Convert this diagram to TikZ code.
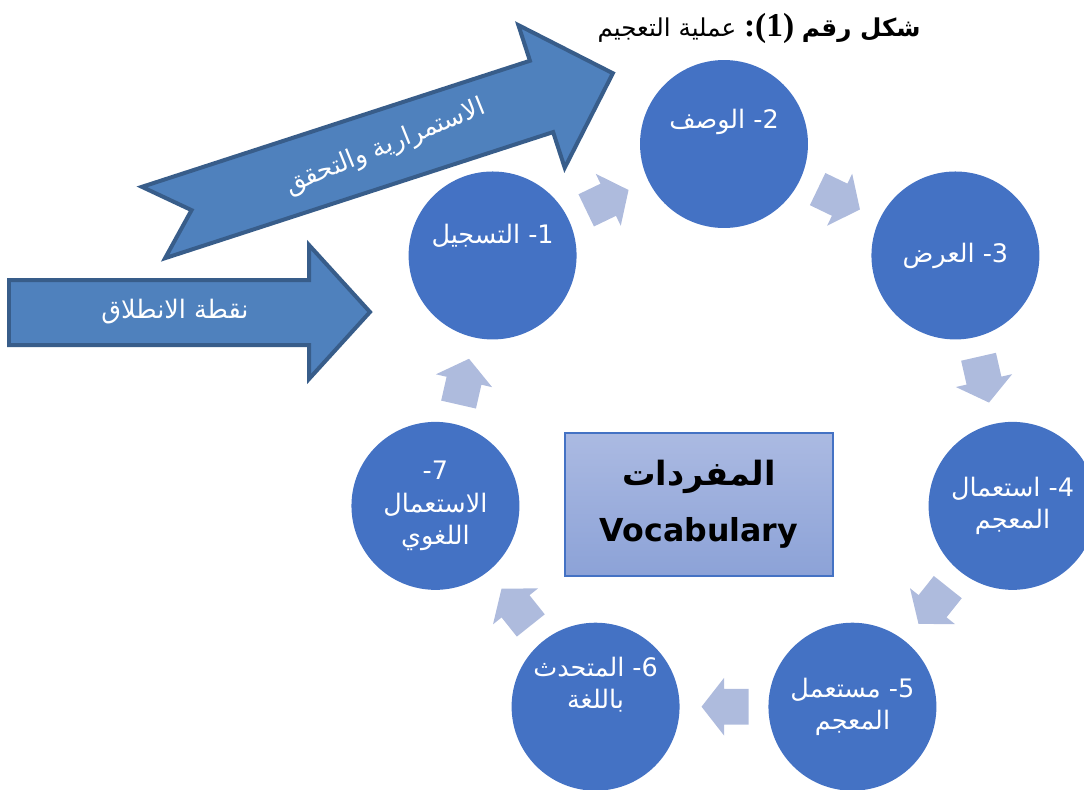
\documentclass[tikz,border=0pt]{standalone}
\usepackage{fontspec}
\usepackage{xcolor}
\usepackage{tikz}
\usetikzlibrary{calc,shapes.arrows}
\setmainfont{DejaVu Sans}
\newfontfamily\arabicfont[Script=Arabic]{DejaVu Sans}
\newfontfamily\titlenum{Liberation Serif}
\TeXXeTstate=1
\definecolor{stagefill}{RGB}{68, 114, 196}
\definecolor{steparrow}{RGB}{174, 187, 221}
\definecolor{bigfill}{RGB}{79, 129, 189}
\definecolor{bigdraw}{RGB}{56, 93, 138}
\definecolor{boxtop}{RGB}{171, 186, 226}
\definecolor{boxbottom}{RGB}{140, 162, 215}

\tikzset{
  stage/.style={circle, fill=stagefill, minimum size=3.36cm, inner sep=0pt},
  stagetext/.style={text=white, align=center, font=\fontsize{14.5}{18.5}\selectfont},
  cyclearrow/.style={single arrow, fill=steparrow, inner xsep=0pt, inner ysep=0.35cm,
    minimum height=0.94cm, single arrow head extend=0.22cm, single arrow tip angle=104},
  bigarrow/.style={fill=bigfill, draw=bigdraw, line width=0.08cm, line join=miter},
  bigtext/.style={text=white, font=\arabicfont\fontsize{14.5}{17}\selectfont}
}

\begin{document}
\begin{tikzpicture}[x=0.02cm, y=0.02cm]
  \useasboundingbox (0,0) rectangle (1084,-789);
  \clip (0,0) rectangle (1084,-789);
  \coordinate (ring) at (724,-440);

  % starting point and continuity arrows
  \draw[bigarrow] (9,-280) -- (309,-280) -- (309,-245) -- (370,-312)
    -- (309,-379) -- (309,-345) -- (9,-345) -- cycle;
  \node[bigtext] (start) at (175,-312) {\beginR نقطة الانطلاق\endR};
  \begin{scope}[shift={(153.5,-222.5)}, rotate=18]
    \draw[bigarrow] (0,37.5) -- (408,37.5) -- (408,75) -- (483,0)
      -- (408,-75) -- (408,-37.5) -- (0,-37.5) -- (40,0) -- cycle;
    \node[bigtext, transform shape, rotate=4] (keep) at (244,0) {\beginR الاستمرارية والتحقق\endR};
  \end{scope}

  % the seven stages
  \foreach \i/\txt/\dy in {
      1/{{\arabicfont التسجيل} -1}/20,
      2/{{\arabicfont الوصف} -2}/22,
      3/{{\arabicfont العرض} -3}/0,
      4/{{\arabicfont استعمال} -4\\{\arabicfont المعجم}}/0,
      5/{{\arabicfont مستعمل} -5\\{\arabicfont المعجم}}/0,
      6/{{\arabicfont المتحدث} -6\\{\arabicfont باللغة}}/22,
      7/{-7\\{\arabicfont الاستعمال}\\{\arabicfont اللغوي}}/0} {
    \node[stage] (c\i) at ($(ring)+({90-(\i-2)*360/7}:296)$) {};
    \node[stagetext] (t\i) at ($(c\i)+(0,\dy)$) {\txt};
  }

  % arrows between stages
  \foreach \i/\j in {1/2, 2/3, 3/4, 4/5, 5/6, 6/7, 7/1}
    \node[cyclearrow, rotate={-(\i-1.5)*360/7}] (a\i)
      at ($(c\i)!0.5!(c\j)!0.16cm!(c\i)$) {};

  \node[draw=stagefill, line width=0.8pt, top color=boxtop, bottom color=boxbottom,
    minimum width=5.36cm, minimum height=2.86cm, align=center,
    font=\bfseries\fontsize{18}{32}\selectfont] (vocab) at (699,-504.5)
    {{\arabicfont\fontsize{19}{32}\selectfont المفردات}\\Vocabulary};

  \node[font=\fontsize{14}{18}\selectfont] (title) at (759,-28)
    {{\arabicfont\beginR عملية التعجيم\endR}
     {\titlenum\bfseries\fontsize{19}{18}\selectfont :(1)}
     {\arabicfont\bfseries\beginR شكل رقم\endR}};
\end{tikzpicture}
\end{document}
